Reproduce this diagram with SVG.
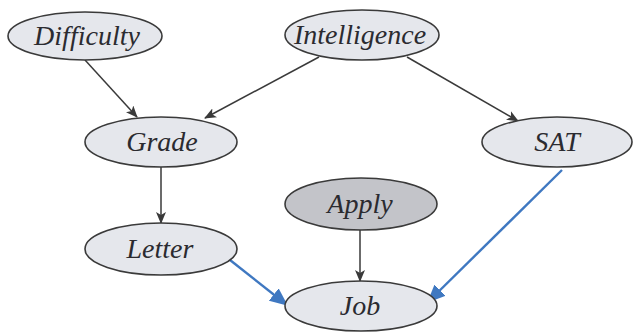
<svg xmlns="http://www.w3.org/2000/svg" width="635" height="333" viewBox="0 0 635 333">
  <style>
    .node ellipse { fill: #e5e7ec; stroke: #3a3a3a; stroke-width: 1.6; }
    .node.evidence ellipse { fill: #c3c4c9; }
    .node text { font-family: "Liberation Serif", "Times New Roman", serif; font-style: italic; font-size: 28px; fill: #2b2b30; text-anchor: middle; }
    .edge { fill: none; stroke: #3a3a3a; stroke-width: 1.5; }
    .edge.blue { stroke: #3f78c1; stroke-width: 2.4; }
  </style>
  <defs>
    <marker id="arrow-dark" viewBox="0 0 12 10" refX="11" refY="5" markerWidth="12" markerHeight="10" markerUnits="userSpaceOnUse" orient="auto">
      <path d="M0,0 L12,5 L0,10 L3,5 Z" fill="#3a3a3a"/>
    </marker>
    <marker id="arrow-blue" viewBox="0 0 16 14" refX="15" refY="7" markerWidth="18" markerHeight="16" markerUnits="userSpaceOnUse" orient="auto">
      <path d="M0,0 L16,7 L0,14 Z" fill="#3f78c1"/>
    </marker>
  </defs>

  <g id="connectors">
    <line class="edge" x1="85" y1="60" x2="137" y2="117" marker-end="url(#arrow-dark)"/>
    <line class="edge" x1="319" y1="57" x2="205" y2="118" marker-end="url(#arrow-dark)"/>
    <line class="edge" x1="407" y1="57" x2="518" y2="121" marker-end="url(#arrow-dark)"/>
    <line class="edge" x1="161" y1="167" x2="161" y2="223" marker-end="url(#arrow-dark)"/>
    <line class="edge" x1="360" y1="230" x2="360" y2="281" marker-end="url(#arrow-dark)"/>
    <line class="edge blue" x1="230" y1="260" x2="287" y2="305" marker-end="url(#arrow-blue)"/>
    <line class="edge blue" x1="562" y1="170" x2="428" y2="302" marker-end="url(#arrow-blue)"/>
  </g>

  <g id="difficulty" class="node">
    <ellipse cx="85" cy="36" rx="77" ry="24"/>
    <text x="87" y="45">Difficulty</text>
  </g>
  <g id="intelligence" class="node">
    <ellipse cx="362" cy="35" rx="77" ry="25"/>
    <text x="360" y="44">Intelligence</text>
  </g>
  <g id="grade" class="node">
    <ellipse cx="161" cy="142" rx="76" ry="25"/>
    <text x="162" y="151">Grade</text>
  </g>
  <g id="sat" class="node">
    <ellipse cx="557" cy="142" rx="75" ry="25"/>
    <text x="557" y="151">SAT</text>
  </g>
  <g id="letter" class="node">
    <ellipse cx="161" cy="249" rx="76" ry="26"/>
    <text x="160" y="258">Letter</text>
  </g>
  <g id="apply" class="node evidence">
    <ellipse cx="361" cy="204" rx="76" ry="26"/>
    <text x="360" y="213">Apply</text>
  </g>
  <g id="job" class="node">
    <ellipse cx="361" cy="306" rx="76" ry="25"/>
    <text x="360" y="315">Job</text>
  </g>
</svg>
